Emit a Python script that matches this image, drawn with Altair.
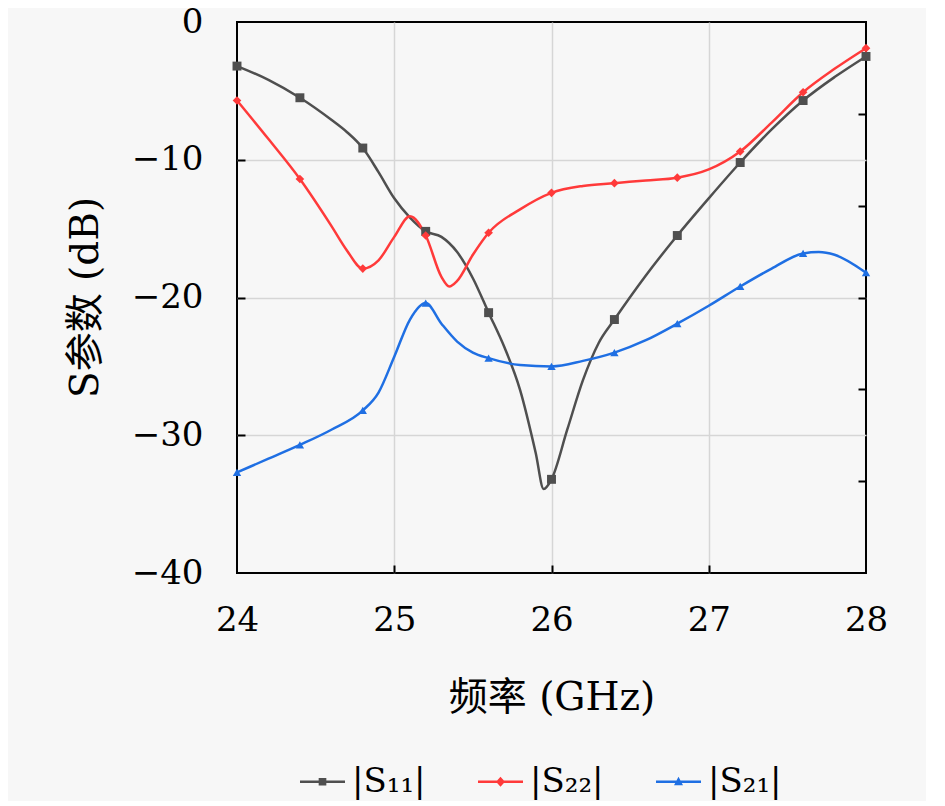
import altair as alt
import pandas as pd

# ---------------- data ----------------
freq_s11 = [24.0, 24.2, 24.4, 24.6, 24.7, 24.8, 24.9, 25.0, 25.1, 25.2, 25.3, 25.4, 25.5,
            25.6, 25.7, 25.8, 25.9, 25.95, 26.0, 26.1, 26.2, 26.3, 26.4, 26.6, 26.8,
            27.0, 27.2, 27.4, 27.6, 27.8, 28.0]
s11 = [-3.2, -4.2, -5.5, -7.1, -8.0, -9.15, -10.9, -12.8, -14.2, -15.2, -15.6, -16.7, -18.6,
       -21.1, -23.6, -26.7, -31.3, -33.9, -33.2, -29.6, -26.0, -23.3, -21.6, -18.4, -15.5,
       -12.8, -10.2, -7.8, -5.7, -4.0, -2.5]

freq_s22 = [24.0, 24.2, 24.4, 24.6, 24.7, 24.8, 24.9, 25.0, 25.1, 25.2, 25.3, 25.35, 25.4,
            25.5, 25.6, 25.8, 26.0, 26.2, 26.4, 26.6, 26.8, 27.0, 27.2, 27.4, 27.6,
            27.8, 28.0]
s22 = [-5.7, -8.5, -11.4, -14.8, -16.6, -17.9, -17.3, -15.6, -14.1, -15.5, -18.5, -19.2, -18.8,
       -16.9, -15.3, -13.6, -12.4, -11.9, -11.7, -11.5, -11.3, -10.7, -9.4, -7.3, -5.1,
       -3.4, -1.9]

freq_s21 = [24.0, 24.2, 24.4, 24.6, 24.8, 24.9, 25.0, 25.1, 25.2, 25.3, 25.4, 25.5,
            25.6, 25.8, 26.0, 26.2, 26.4, 26.6, 26.8, 27.0, 27.2, 27.4, 27.6, 27.7,
            27.8, 28.0]
s21 = [-32.7, -31.7, -30.7, -29.6, -28.2, -26.9, -24.3, -21.6, -20.4, -21.9, -23.2, -24.0,
       -24.4, -24.9, -25.0, -24.6, -24.0, -23.1, -21.9, -20.6, -19.2, -17.9, -16.8, -16.7,
       -16.9, -18.2]

marker_freqs = [24.0, 24.4, 24.8, 25.2, 25.6, 26.0, 26.4, 26.8, 27.2, 27.6, 28.0]

series_names = ["|S₁₁|", "|S₂₂|", "|S₂₁|"]
series_colors = ["#4f4f4f", "#ff3a3a", "#1f6fe3"]
series_shapes = ["square", "diamond", "triangle-up"]
series_sizes = [80, 75, 70]
# legend symbols: short line with the series marker in its middle
legend_paths = [
    "M-1,-0.055H1V0.055H-1Z M-0.17,-0.17H0.17V0.17H-0.17Z",
    "M-1,-0.055H1V0.055H-1Z M0,-0.22L0.2,0L0,0.22L-0.2,0Z",
    "M-1,-0.055H1V0.055H-1Z M0,-0.22L0.2,0.15L-0.2,0.15Z",
]

x_ticks = [24, 25, 26, 27, 28]
y_ticks = [0, -10, -20, -30, -40]
x_grid = [25, 26, 27]
y_grid = [-10, -20, -30]
right_ticks = [-20 / 3, -40 / 3, -20, -80 / 3, -100 / 3]

rows = []
for name, fs, vs in zip(series_names, [freq_s11, freq_s22, freq_s21], [s11, s22, s21]):
    for f, v in zip(fs, vs):
        rows.append({"freq": f, "val": v, "series": name,
                     "marker": any(abs(f - m) < 1e-9 for m in marker_freqs)})
df = pd.DataFrame(rows)

FONT = "DejaVu Serif, Noto Sans CJK SC"
FS = 34
FT = 39
xscale = alt.Scale(domain=[24, 28], nice=False, zero=False)
yscale = alt.Scale(domain=[-40, 0], nice=False, zero=False)
cscale = alt.Scale(domain=series_names, range=series_colors)

legend_spec = alt.Legend(
    title=None, orient="none", legendX=63, legendY=737, direction="horizontal",
    symbolSize=2025, symbolOpacity=1, symbolStrokeWidth=0,
    labelFont=FONT, labelFontSize=FS, labelColor="black", columnPadding=52,
    labelOffset=7, labelLimit=0,
)

base = alt.Chart(df)

legend_layer = base.transform_filter(alt.datum.marker).mark_point(filled=True, size=0.01).encode(
    x=alt.X("freq:Q", scale=xscale, axis=None),
    y=alt.Y("val:Q", scale=yscale, axis=None),
    color=alt.Color("series:N", scale=cscale, legend=legend_spec),
    shape=alt.Shape("series:N", scale=alt.Scale(domain=series_names, range=legend_paths),
                    legend=legend_spec),
)

lines = base.mark_line(interpolate="monotone", strokeWidth=2.5).encode(
    x=alt.X("freq:Q", scale=xscale, axis=alt.Axis(
        orient="bottom", values=x_ticks, format="d", grid=False, ticks=False, tickSize=0,
        domain=False, labelFlush=False, labelPadding=30, labelFont=FONT, labelFontSize=FS,
        labelColor="black",
        title="频率 (GHz)", titleFont=FONT, titleFontSize=FT, titleFontWeight="normal",
        titleColor="black", titleX=314.5, titleY=124, titleBaseline="middle", titleAlign="center")),
    y=alt.Y("val:Q", scale=yscale, axis=alt.Axis(
        orient="left", values=y_ticks, format="d", grid=False, ticks=False, tickSize=0,
        domain=False, labelFlush=False, labelPadding=34, labelFont=FONT, labelFontSize=FS,
        labelColor="black",
        title="S参数 (dB)", titleFont=FONT, titleFontSize=FT, titleFontWeight="normal",
        titleColor="black", titleX=-132, titleY=275, titleAlign="center", titleAngle=270)),
    color=alt.Color("series:N", scale=cscale, legend=None),
)

marker_layers = []
for i, (name, col, shp, sz) in enumerate(zip(series_names, series_colors, series_shapes, series_sizes)):
    if i == 0:
        xax = alt.Axis(orient="bottom", values=x_grid, offset=-8, tickSize=8, tickWidth=2,
                       tickColor="black", labels=False, domain=False, grid=False, title=None)
        yax = alt.Axis(orient="left", values=y_grid, offset=-8, tickSize=8, tickWidth=2,
                       tickColor="black", labels=False, domain=False, grid=False, title=None)
    else:
        xax = None
        yax = None
    marker_layers.append(
        base.transform_filter((alt.datum.series == name) & alt.datum.marker)
        .mark_point(filled=True, shape=shp, size=sz, color=col, opacity=1)
        .encode(
            x=alt.X("freq:Q", scale=xscale, axis=xax),
            y=alt.Y("val:Q", scale=yscale, axis=yax),
        )
    )

grid_x = base.mark_point(opacity=0).encode(
    x=alt.X("freq:Q", scale=xscale, axis=alt.Axis(
        orient="top", values=x_grid, grid=True, gridColor="#d6d6d6", gridWidth=1.5,
        ticks=False, labels=False, domain=False, title=None)),
    y=alt.Y("val:Q", scale=yscale, axis=alt.Axis(
        orient="right", values=right_ticks, offset=-8, tickSize=8, tickWidth=2, tickColor="black",
        labels=False, domain=False, grid=False, title=None)),
)

grid_y = base.mark_point(opacity=0).encode(
    x=alt.X("freq:Q", scale=xscale, axis=None),
    y=alt.Y("val:Q", scale=yscale, axis=alt.Axis(
        orient="right", values=y_grid, grid=True, gridColor="#d6d6d6", gridWidth=1.5,
        ticks=False, labels=False, domain=False, title=None)),
)

chart = (
    alt.layer(legend_layer, grid_x, grid_y, lines, *marker_layers)
    .resolve_scale(x="shared", y="shared", color="shared", shape="shared")
    .resolve_axis(x="independent", y="independent")
    .properties(
        width=629, height=551,
        padding={"left": 229, "top": 14, "right": 60, "bottom": 228},
        autosize=alt.AutoSizeParams(type="none"),
        background="#f7f7f7",
    )
    .configure_view(fill="#f7f7f7", stroke="black", strokeWidth=2)
)

chart.save("out.html", embed_options={"renderer": "svg", "actions": False})
